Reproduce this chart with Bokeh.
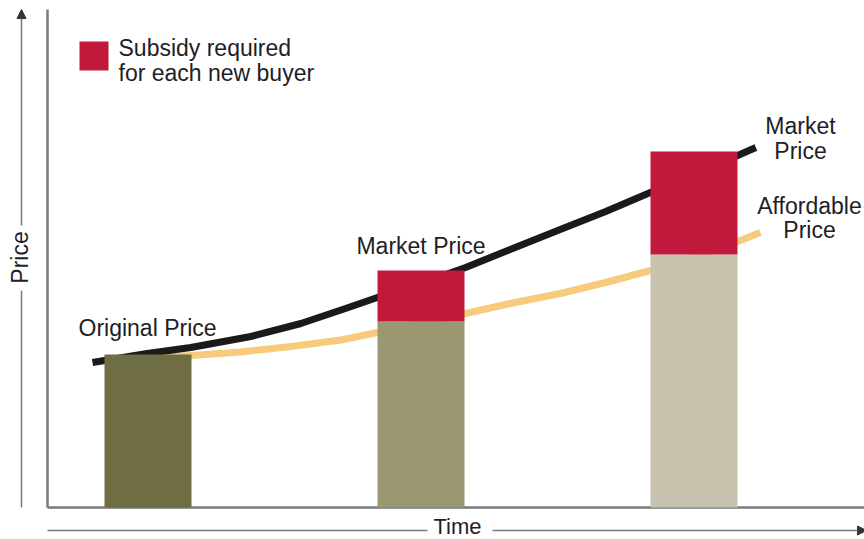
import numpy as np
from bokeh.plotting import figure
from bokeh.models import Range1d, Arrow, NormalHead
from bokeh.core.properties import value
from bokeh.embed import file_html
from bokeh.resources import INLINE

# ---------------- data ----------------
periods = [1, 4, 7]
affordable_price = [3.06, 3.72, 5.06]
market_price = [3.06, 4.74, 7.12]

market_curve_t = [0.39, 0.99, 1.47, 2.13, 2.68, 3.17, 3.52, 3.99, 4.49, 4.98, 5.53, 6.03, 6.52, 7.02, 7.48, 7.68]
market_curve_p = [2.90, 3.08, 3.20, 3.42, 3.68, 3.98, 4.20, 4.48, 4.80, 5.16, 5.56, 5.92, 6.30, 6.68, 7.04, 7.20]
afford_curve_t = [0.99, 1.47, 2.02, 2.57, 3.12, 3.52, 3.99, 4.49, 4.98, 5.53, 6.03, 6.52, 7.02, 7.48, 7.73]
afford_curve_p = [3.00, 3.04, 3.11, 3.22, 3.35, 3.50, 3.68, 3.88, 4.08, 4.28, 4.50, 4.74, 5.02, 5.32, 5.50]

legend_label = ["Subsidy required", "for each new buyer"]
x_title = "Time"
y_title = "Price"

# ---------------- layout ----------------
W, H = 864, 539
X0_PX, PX_PER_X = 56.5, 91.0
Y0_PX, PX_PER_Y = 507.0, 50.0
TXT_SHIFT = 8  # baseline correction in px


def X(px):
    return (px - X0_PX) / PX_PER_X


def Y(py):
    return (Y0_PX - py) / PX_PER_Y


def TY(py):
    return Y(py - TXT_SHIFT)


FONT = value("Liberation Sans")
FS = value("23px")
TXT = "#1e1e26"
AXIS = "#7a7a7a"
RED = "#c0193b"
BASE_COLORS = ["#6e6d44", "#9a9870", "#c8c3ae"]

p = figure(width=W, height=H, output_backend="svg", toolbar_location=None,
           x_range=Range1d(X(0), X(W)), y_range=Range1d(Y(H), Y(0)),
           x_axis_location=None, y_axis_location=None, min_border=0)
p.grid.visible = False
p.outline_line_color = None
p.background_fill_color = "white"
p.border_fill_color = "white"

# axis lines
p.line([X(47), X(47)], [Y(9), 0], line_color=AXIS, line_width=2.5)
p.line([X(47), X(W)], [0, 0], line_color=AXIS, line_width=2.5)

# curves
p.line(afford_curve_t, afford_curve_p, line_color="#f7ca7c", line_width=7,
       line_cap="butt", line_join="round")
p.line(market_curve_t, market_curve_p, line_color="#1a1a1a", line_width=7,
       line_cap="butt", line_join="round")

# bars
bw = 87 / PX_PER_X
p.vbar(x=periods, bottom=0, top=affordable_price, width=bw,
       fill_color=BASE_COLORS, line_color=None)
p.vbar(x=periods, bottom=affordable_price, top=market_price, width=bw,
       fill_color=RED, line_color=None)

# bar labels
p.text(x=[X(78)], y=[TY(335)], text=["Original Price"], text_font=FONT, text_font_size=FS,
       text_color=TXT, text_align="left", text_baseline="alphabetic")
p.text(x=[periods[1]], y=[TY(253)], text=["Market Price"], text_font=FONT, text_font_size=FS,
       text_color=TXT, text_align="center", text_baseline="alphabetic")

# curve end labels
p.text(x=[X(800), X(800)], y=[TY(133), TY(158)], text=["Market", "Price"], text_font=FONT,
       text_font_size=FS, text_color=TXT, text_align="center", text_baseline="alphabetic")
p.text(x=[X(809), X(809)], y=[TY(213), TY(237)], text=["Affordable", "Price"], text_font=FONT,
       text_font_size=FS, text_color=TXT, text_align="center", text_baseline="alphabetic")

# legend
p.quad(left=[X(79)], right=[X(108)], top=[Y(41)], bottom=[Y(70)], fill_color=RED, line_color=None)
p.text(x=[X(118), X(118)], y=[TY(55), TY(80)], text=legend_label, text_font=FONT,
       text_font_size=FS, text_color=TXT, text_align="left", text_baseline="alphabetic")

# axis titles with arrows
p.line([X(21), X(21)], [Y(507), Y(290)], line_color=AXIS, line_width=1.5)
p.add_layout(Arrow(end=NormalHead(size=9, fill_color="#333333", line_color="#333333"),
                   x_start=X(21), y_start=Y(225), x_end=X(21), y_end=Y(9),
                   line_color=AXIS, line_width=1.5))
p.text(x=[X(19)], y=[Y(257)], text=[y_title], angle=np.pi / 2, text_font=FONT,
       text_font_size=FS, text_color=TXT, text_align="center", text_baseline="middle")

p.line([X(47), X(427)], [Y(530), Y(530)], line_color=AXIS, line_width=1.5)
p.add_layout(Arrow(end=NormalHead(size=9, fill_color="#333333", line_color="#333333"),
                   x_start=X(492), y_start=Y(530), x_end=X(866), y_end=Y(530),
                   line_color=AXIS, line_width=1.5))
p.text(x=[X(457)], y=[Y(526)], text=[x_title], text_font=FONT,
       text_font_size=value("22px"), text_color=TXT, text_align="center", text_baseline="middle")

open("out.html", "w").write(file_html(p, INLINE))
